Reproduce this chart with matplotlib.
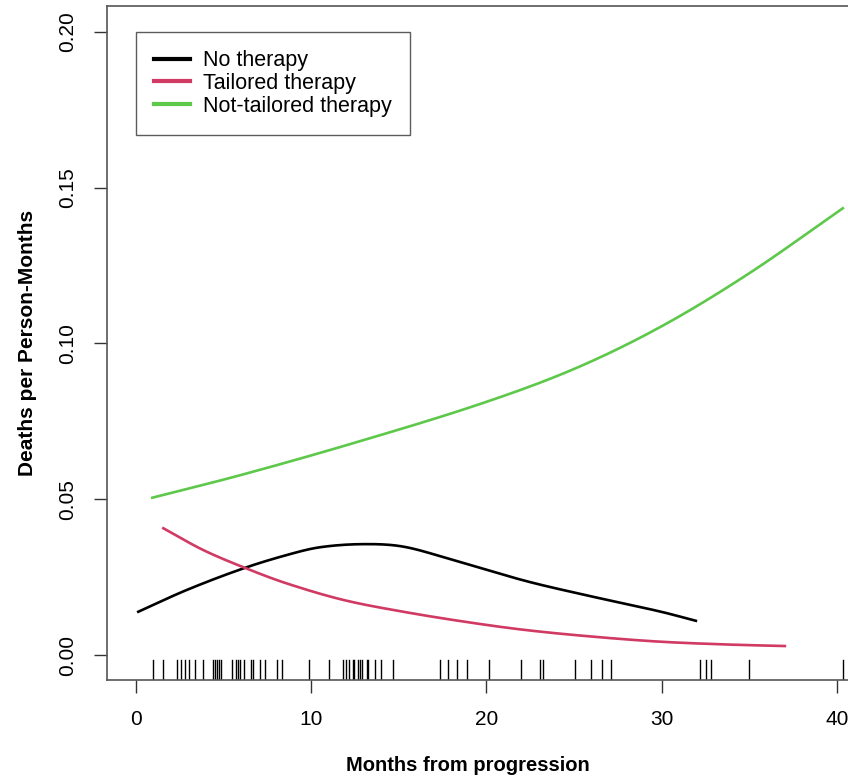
import numpy as np
import matplotlib
matplotlib.use("Agg")
import matplotlib.pyplot as plt

plt.rcParams['font.family'] = ['Liberation Sans', 'DejaVu Sans']

# values
months_none = [0.13, 2.9, 6.12, 8.6, 10.5, 12.97, 15.26, 18.1, 22.3, 26.1, 29.9, 31.96]
rate_none = [0.0139, 0.0209, 0.0278, 0.0321, 0.0346, 0.0356, 0.0348, 0.0305, 0.0237, 0.0187, 0.0140, 0.0110]

months_tailored = [1.56, 3.84, 6.3, 8.6, 11.83, 15.26, 19.0, 22.3, 26.1, 29.9, 33.7, 37.04]
rate_tailored = [0.0407, 0.0337, 0.0278, 0.0230, 0.0177, 0.0139, 0.0105, 0.0080, 0.0059, 0.0043, 0.0034, 0.0029]

months_not = [0.93, 6.0, 12.4, 19.6, 25.0, 30.0, 35.0, 40.35]
rate_not = [0.0505, 0.0578, 0.0680, 0.0805, 0.0918, 0.1055, 0.1225, 0.1434]

rug_months = [0.95, 1.56, 2.32, 2.55, 2.78, 3.0, 3.37, 3.84, 4.41, 4.53, 4.64, 4.75, 4.87,
              5.46, 5.69, 5.85, 5.94, 6.16, 6.58, 6.66, 7.08, 7.36, 8.03, 8.32, 9.87,
              11.0, 11.83, 11.99, 12.14, 12.4, 12.46, 12.69, 12.79, 12.88, 13.17, 13.26,
              13.64, 13.97, 14.69, 17.35, 17.83, 18.3, 18.88, 20.17, 21.97, 23.06, 23.25,
              25.06, 26.0, 26.58, 27.11, 32.19, 32.53, 32.8, 35.0, 40.34]

labels = ['No therapy', 'Tailored therapy', 'Not-tailored therapy']
colors = ['black', '#D03A63', '#5DC84A']

fig = plt.figure(figsize=(8.48, 7.81), dpi=100)
ax = fig.add_axes([107/848, 101/781, 756/848, 674/781])


def smooth(xs, ys, n=300):
    # cubic hermite through the read points, just to draw a smooth curve
    xs = np.asarray(xs, float)
    ys = np.asarray(ys, float)
    xx = np.linspace(xs[0], xs[-1], n)
    out = []
    for x in xx:
        i = np.searchsorted(xs, x) - 1
        i = min(max(i, 0), len(xs) - 2)
        x0, x1 = xs[i], xs[i + 1]
        y0, y1 = ys[i], ys[i + 1]
        m0 = (ys[i + 1] - ys[i - 1]) / (xs[i + 1] - xs[i - 1]) if i > 0 else (y1 - y0) / (x1 - x0)
        m1 = (ys[i + 2] - ys[i]) / (xs[i + 2] - xs[i]) if i + 2 < len(xs) else (y1 - y0) / (x1 - x0)
        h = x1 - x0
        t = (x - x0) / h
        out.append((2*t**3 - 3*t**2 + 1)*y0 + (t**3 - 2*t**2 + t)*h*m0
                   + (-2*t**3 + 3*t**2)*y1 + (t**3 - t**2)*h*m1)
    return xx, np.array(out)


series = [(months_none, rate_none), (months_tailored, rate_tailored), (months_not, rate_not)]
for (mx, ry), lab, col in zip(series, labels, colors):
    sx, sy = smooth(mx, ry)
    ax.plot(sx, sy, color=col, lw=1.9, label=lab)

# rug along the bottom
for m in rug_months:
    ax.plot([m, m], [0, 0.03], transform=ax.get_xaxis_transform(), color='black', lw=1)

ax.set_xlim(-1.655, 41.5)
ax.set_ylim(-0.008, 0.2083)
ax.set_xticks([0, 10, 20, 30, 40])
ax.set_yticks([0.0, 0.05, 0.10, 0.15, 0.20])
ax.set_yticklabels(['0.00', '0.05', '0.10', '0.15', '0.20'], rotation=90, va='center')
ax.tick_params(direction='out', length=9.5, width=1, color='#333333', labelsize=15, pad=12)
for s in ax.spines.values():
    s.set_color('#555555')
    s.set_linewidth(1.2)

ax.set_xlabel('Months from progression', fontsize=14.5, fontweight='bold')
ax.xaxis.set_label_coords((468 - 107) / 756, -0.113)
ax.set_ylabel('Deaths per Person-Months', fontsize=15, fontweight='bold')
ax.yaxis.set_label_coords(-0.0926, 0.5)

leg = ax.legend(loc='upper left', bbox_to_anchor=((136 - 107) / 756, (680 - 32) / 674),
                fontsize=15.5, frameon=True, fancybox=False, handlelength=1.67,
                handletextpad=0.6, borderpad=0.85, labelspacing=0.08, borderaxespad=0)
leg.get_frame().set_edgecolor('#333333')
leg.get_frame().set_linewidth(1)
for line in leg.get_lines():
    line.set_linewidth(3)

fig.savefig('out.png', dpi=100)
